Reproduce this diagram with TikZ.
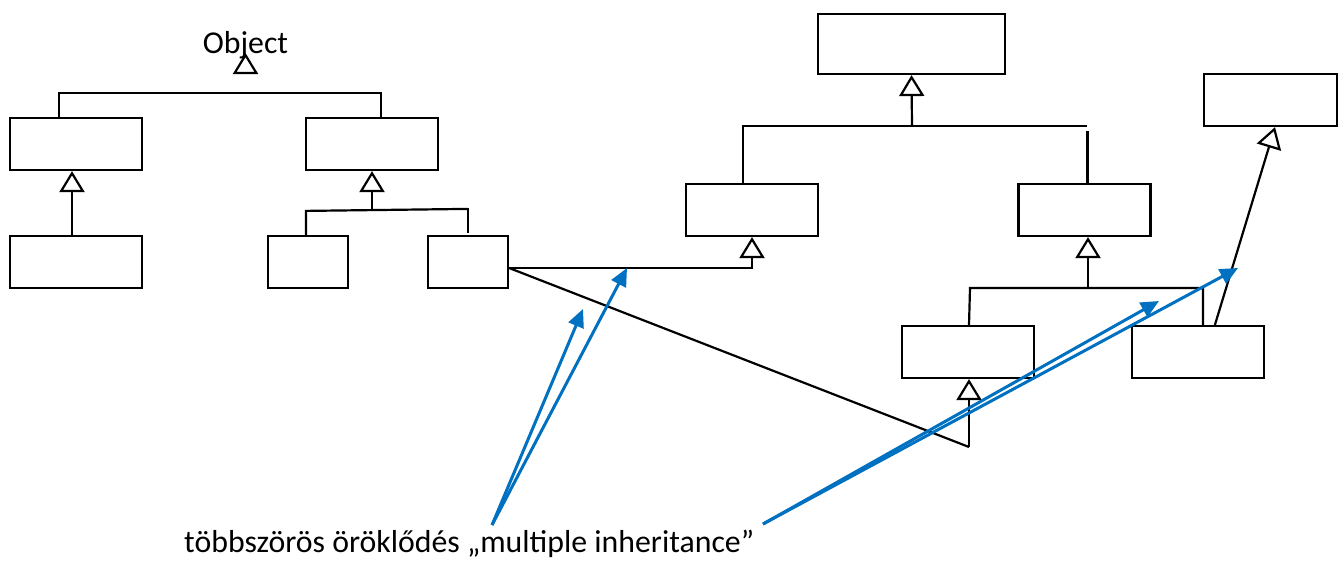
\documentclass[tikz,border=0pt]{standalone}
\usepackage{fontspec}
\setmainfont{Carlito}
\usetikzlibrary{arrows.meta}
\definecolor{arrowblue}{HTML}{0070C0}
\begin{document}
\begin{tikzpicture}[x=1pt,y=-1pt,
  box/.style={draw,line width=2.2pt,inner sep=0pt,minimum width=132pt,minimum height=52pt},
  ln/.style={line width=2.2pt},
  gen/.style={line width=2.2pt,-{Triangle[open,length=21pt,width=25pt]}},
  note/.style={line width=3pt,arrowblue,-{Triangle[length=18pt,width=16pt]}},
  lbl/.style={font=\fontsize{31.8}{38}\selectfont,inner sep=0pt}]
\useasboundingbox (0,0) rectangle (1340,560);
% nodes
\node[lbl,anchor=base] (obj) at (245.5,53) {Object};
\node[box] (A) at (76,144) {};
\node[box] (B) at (76,262) {};
\node[box] (C) at (372,144) {};
\node[box,minimum width=80pt] (D) at (308,262) {};
\node[box,minimum width=80pt] (E) at (468,262) {};
\node[box,minimum width=187pt,minimum height=60pt] (F) at (911.5,44) {};
\node[box] (G) at (752,210) {};
\node[box] (H) at (1084.5,210) {};
\node[box] (I) at (968,352) {};
\node[box] (J) at (1198,352) {};
\node[box,minimum width=133pt] (K) at (1270.5,100) {};
\node[lbl,anchor=base west] (txt) at (184,552) {többszörös öröklődés „multiple inheritance”};
% junction coordinates
\coordinate (o1) at (245.5,74);
\coordinate (cj) at (372,211);
\coordinate (fj) at (912,126);
\coordinate (bend) at (969,447);
\coordinate (hj) at (1088,288);
\coordinate (s1) at (492,525);
\coordinate (s2) at (763,524);
% Object tree
\draw[gen] (o1) -- (obj.base);
\draw[ln] ([xshift=50pt]A.north west) -- ++(0,-24) -| ([xshift=76pt]C.north west);
\draw[gen] ([xshift=-4pt]B.north) -- ([xshift=-4pt]A.south);
% C tree
\draw[gen] (cj) -- (C.south);
\draw[ln] ([xshift=-2pt]D.north) -- ++(0,-24) -- ++(162,-2);
\draw[ln] ([yshift=2pt]E.north) -- ++(0,-25);
% F tree
\draw[gen] (fj) -- (F.south);
\draw[ln] ([xshift=-9pt]G.north) |- ([xshift=70pt]H.north west |- fj);
\draw[ln] ([xshift=70pt]H.north west) -- ++(0,-52);
% E inherits from G and I
\draw[gen] ([yshift=-6pt]E.east) -| (G.south);
\draw[ln] ([yshift=-6pt]E.east) -- (bend);
\draw[gen] (bend) -- ([xshift=1pt]I.south);
% H tree
\draw[gen] (hj) -- ([xshift=3.5pt]H.south);
\draw[ln] ([xshift=1pt]I.north) -- ([xshift=2pt]I.north |- hj) -| ([xshift=72pt]J.north west);
% J inherits from K
\draw[gen] ([xshift=84pt]J.north west) -- ([xshift=4.5pt]K.south);
% annotation arrows
\draw[note] (s1) -- (627,268);
\draw[note] (s1) -- (583,309);
\draw[note] (s2) -- (1159,301);
\draw[note] (s2) -- (1238,268);
\end{tikzpicture}
\end{document}
